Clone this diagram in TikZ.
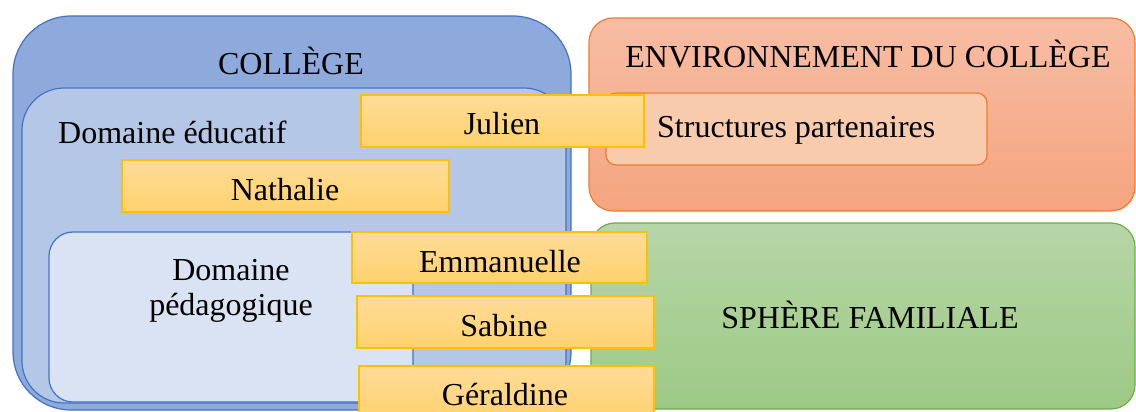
\documentclass[tikz,border=0pt]{standalone}
\usepackage{fontspec}
\setmainfont{Liberation Serif}
\definecolor{blueA}{HTML}{8EAADC}
\definecolor{blueB}{HTML}{B4C7E7}
\definecolor{blueC}{HTML}{DAE3F3}
\definecolor{blueLine}{HTML}{4472C4}
\definecolor{orTop}{HTML}{F7BDA4}
\definecolor{orBot}{HTML}{F5A47F}
\definecolor{orLine}{HTML}{ED7D31}
\definecolor{orIn}{HTML}{F8CBAD}
\definecolor{grTop}{HTML}{B6D6A7}
\definecolor{grBot}{HTML}{9DC985}
\definecolor{grLine}{HTML}{70AD47}
\definecolor{yeTop}{HTML}{FFDB98}
\definecolor{yeBot}{HTML}{FFD26E}
\definecolor{yeLine}{HTML}{FFC000}
\tikzset{
  bluebox/.style={draw=blueLine, line width=1.2pt},
  orbox/.style={draw=orLine, line width=1.2pt},
  grbox/.style={draw=grLine, line width=1.2pt, top color=grTop, bottom color=grBot},
  namebox/.style={draw=yeLine, line width=1.5pt, top color=yeTop, bottom color=yeBot},
  lbl/.style={inner sep=0pt, anchor=base, font=\fontsize{32}{35}\selectfont},
}
\begin{document}
\begin{tikzpicture}[x=1pt, y=-1pt]
\useasboundingbox (0,0) rectangle (1136,412);
\clip (0,0) rectangle (1136,412);
% College
\path[bluebox, fill=blueA, rounded corners=58pt] (13,16) rectangle (571,410);
\path[bluebox, fill=blueB, rounded corners=42pt] (22,88) rectangle (566,403);
\path[bluebox, fill=blueC, rounded corners=24pt] (49,232) rectangle (413,402);
% Environnement
\path[orbox, top color=orTop, bottom color=orBot, rounded corners=24pt] (589,18) rectangle (1135,211);
\path[orbox, fill=orIn, rounded corners=10pt] (606,93) rectangle (987,165);
% Sphere familiale
\path[grbox, rounded corners=24pt] (591,223) rectangle (1135,409);
% labels
\node[lbl] (college) at (291,75) {COLLÈGE};
\node[lbl, anchor=base west] (educ) at (58,143) {Domaine éducatif};
\node[lbl, align=center, anchor=base, font=\fontsize{32}{35}\selectfont] (peda) at (231,315) {Domaine\\pédagogique};
\node[lbl] (env) at (868,67) {ENVIRONNEMENT DU COLLÈGE};
\node[lbl, anchor=base west] (struct) at (657,137) {Structures partenaires};
\node[lbl] (sphere) at (870,328) {SPHÈRE FAMILIALE};
% names
\path[namebox] (361,95) rectangle (644,147);
\node[lbl] (julien) at (502,135) {Julien};
\path[namebox] (122,160) rectangle (449,212);
\node[lbl] (nathalie) at (285,200) {Nathalie};
\path[namebox] (352,232) rectangle (647,283);
\node[lbl] (emma) at (500,272) {Emmanuelle};
\path[namebox] (357,296) rectangle (654,348);
\node[lbl] (sabine) at (504,336) {Sabine};
\path[namebox] (359,366) rectangle (654,420);
\node[lbl] (geraldine) at (505,405) {Géraldine};
\end{tikzpicture}
\end{document}
